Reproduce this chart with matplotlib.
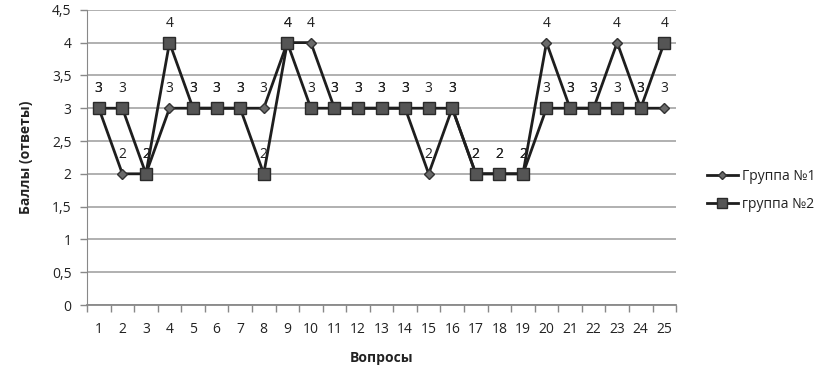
import matplotlib
matplotlib.use("Agg")
import matplotlib.pyplot as plt
from matplotlib.ticker import MultipleLocator, FuncFormatter, FixedLocator

questions = list(range(1, 26))
group1 = [3, 2, 2, 3, 3, 3, 3, 3, 4, 4, 3, 3, 3, 3, 2, 3, 2, 2, 2, 4, 3, 3, 4, 3, 3]
group2 = [3, 3, 2, 4, 3, 3, 3, 2, 4, 3, 3, 3, 3, 3, 3, 3, 2, 2, 2, 3, 3, 3, 3, 3, 4]
series_names = ["Группа №1", "группа №2"]
xlabel = "Вопросы"
ylabel = "Баллы (ответы)"

plt.rcParams['font.family'] = ['Open Sans', 'DejaVu Sans']

fig = plt.figure(figsize=(8.32, 3.69), dpi=100)
ax = fig.add_axes([0.1046, 0.1734, 0.708, 0.80])

ax.plot(questions, group1, color='#1e1e1e', lw=2, marker='D', ms=5,
        mfc='#6a6a6a', mec='#333333', label=series_names[0], zorder=3)
ax.plot(questions, group2, color='#1e1e1e', lw=2, marker='s', ms=8.5,
        mfc='#555555', mec='#2a2a2a', label=series_names[1], zorder=4)

for x, y in zip(questions, group1):
    ax.annotate(str(y), (x, y), xytext=(0, 14), textcoords='offset points',
                ha='center', va='center', fontsize=10, color='#222222', zorder=5)
for x, y in zip(questions, group2):
    ax.annotate(str(y), (x, y), xytext=(0, 14), textcoords='offset points',
                ha='center', va='center', fontsize=10, color='#222222', zorder=5)

ax.set_xlim(0.5, 25.5)
ax.set_ylim(0, 4.5)
ax.yaxis.set_major_locator(MultipleLocator(0.5))
ax.yaxis.set_major_formatter(FuncFormatter(lambda v, p: ('%g' % v).replace('.', ',')))
ax.set_xticks(questions)
ax.xaxis.set_minor_locator(FixedLocator([i + 0.5 for i in range(0, 26)]))
ax.tick_params(axis='x', which='major', length=0, pad=12, labelsize=10, colors='#222222')
ax.tick_params(axis='x', which='minor', length=5, width=1, color='#888888', direction='out')
ax.tick_params(axis='y', which='major', length=5, width=1, color='#888888', labelsize=10,
               labelcolor='#222222', pad=6)

ax.grid(axis='y', color='#aaaaaa', lw=1.3)
ax.set_axisbelow(True)
for s in ['top', 'right']:
    ax.spines[s].set_visible(False)
ax.spines['left'].set_color('#888888')
ax.spines['bottom'].set_color('#888888')
ax.spines['bottom'].set_linewidth(1.3)

ax.set_xlabel(xlabel, fontsize=10, fontweight='bold', color='#222222', labelpad=10)
ax.set_ylabel(ylabel, fontsize=10, fontweight='bold', color='#222222', labelpad=14)

fig.legend(loc='upper left', bbox_to_anchor=(0.835, 0.575), frameon=False,
           fontsize=10, handlelength=2.2, handletextpad=0.3, labelspacing=0.9,
           labelcolor='#222222', markerscale=0.8)

fig.savefig('out.png', dpi=100)
